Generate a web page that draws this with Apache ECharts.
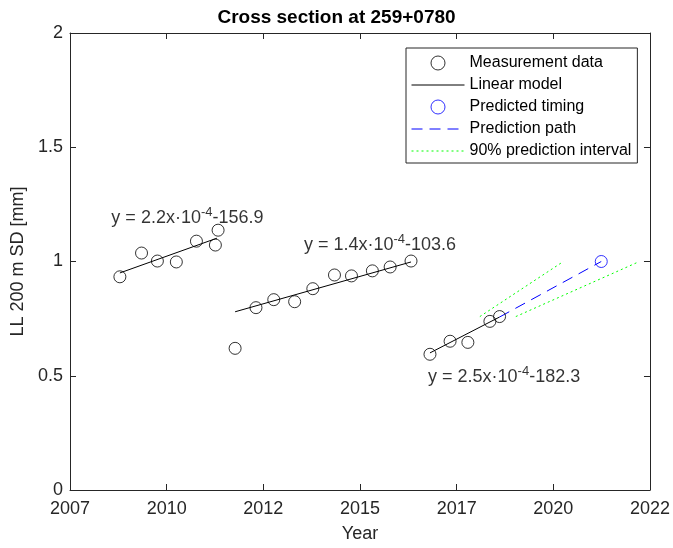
<!DOCTYPE html>
<html>
<head>
<meta charset="utf-8">
<script src="https://cdn.jsdelivr.net/npm/echarts@6/dist/echarts.min.js"></script>
<style>html,body{margin:0;padding:0;background:#fff}#c{width:673px;height:548px}</style>
</head>
<body>
<div id="c"></div>
<script>
// Measurement data [decimal year, LL 200 m SD]
var measured = [
  [2008.79, 0.933], [2009.35, 1.037], [2009.76, 1.002], [2010.25, 0.998],
  [2010.77, 1.089], [2011.26, 1.072], [2011.33, 1.137],
  [2011.77, 0.620], [2012.31, 0.798], [2012.77, 0.833], [2013.31, 0.824],
  [2013.78, 0.881], [2014.34, 0.941], [2014.78, 0.937], [2015.32, 0.959],
  [2015.78, 0.976], [2016.32, 1.002],
  [2016.81, 0.594], [2017.33, 0.651], [2017.79, 0.646], [2018.36, 0.738],
  [2018.61, 0.759]
];
var fit1 = [[2008.79, 0.950], [2011.30, 1.102]];
var fit2 = [[2011.77, 0.780], [2016.32, 0.998]];
var fit3 = [[2016.81, 0.600], [2018.61, 0.757]];
var predicted = [[2021.24, 1.000]];
var predPath = [[2018.61, 0.757], [2021.24, 1.000]];
var piUpper = [[2018.10, 0.759], [2020.26, 1.000]];
var piLower = [[2019.03, 0.759], [2022.16, 0.995]];
var annotations = [
  {pos: [2008.57, 1.190], a: 'y = 2.2x·10', s: '-4', b: '-156.9'},
  {pos: [2013.55, 1.072], a: 'y = 1.4x·10', s: '-4', b: '-103.6'},
  {pos: [2016.76, 0.495], a: 'y = 2.5x·10', s: '-4', b: '-182.3'}
];
var xTickLabelFormat = function (v) { return String(Math.floor(v + 1e-6)); };

var FONT = 'Liberation Sans, Arial, Helvetica, sans-serif';
var AX = '#262626';
var chart = echarts.init(document.getElementById('c'), null, {renderer: 'canvas'});

function axisX(pos, showLabel) {
  return {
    type: 'value', position: pos, min: 2007.5, max: 2022.5, interval: 2.5,
    axisLine: {show: true, onZero: false, lineStyle: {color: AX, width: 1}},
    axisTick: {show: true, inside: true, length: 6, lineStyle: {color: AX}},
    axisLabel: {show: showLabel, formatter: xTickLabelFormat, fontSize: 18, color: AX, fontFamily: FONT, margin: 10},
    splitLine: {show: false},
    name: showLabel ? 'Year' : '', nameLocation: 'middle', nameGap: 35,
    nameTextStyle: {fontSize: 18, color: AX, fontFamily: FONT}
  };
}
function axisY(pos, showLabel) {
  return {
    type: 'value', position: pos, min: 0, max: 2, interval: 0.5,
    axisLine: {show: true, onZero: false, lineStyle: {color: AX, width: 1}},
    axisTick: {show: true, inside: true, length: 6, lineStyle: {color: AX}},
    axisLabel: {show: showLabel, fontSize: 18, color: AX, fontFamily: FONT, margin: 7},
    splitLine: {show: false},
    name: showLabel ? 'LL 200 m SD [mm]' : '', nameLocation: 'middle', nameGap: 37, nameRotate: 90,
    nameTextStyle: {fontSize: 18, color: AX, fontFamily: FONT}
  };
}
function fitSeries(d) {
  return {name: 'Linear model', type: 'line', data: d, symbol: 'none', silent: true,
    lineStyle: {color: '#000', width: 1}, itemStyle: {color: '#000', opacity: 0}, z: 2};
}
function piSeries(d) {
  return {name: '90% prediction interval', type: 'line', data: d, symbol: 'none', silent: true,
    lineStyle: {color: '#00ff00', width: 1, type: [2, 3]}, itemStyle: {color: '#00ff00', opacity: 0}, z: 2};
}
var hideSym = {opacity: 0};
var thinLine = {width: 1};

chart.setOption({
  animation: false,
  backgroundColor: '#fff',
  title: {text: 'Cross section at 259+0780', left: 'center', top: 8, padding: 0,
    textStyle: {fontSize: 19, fontWeight: 'bold', color: '#000', fontFamily: FONT}},
  grid: {left: 70, right: 20, top: 33, bottom: 54, containLabel: false},
  xAxis: [axisX('bottom', true), axisX('top', false)],
  yAxis: [axisY('left', true), axisY('right', false)],
  legend: {
    data: [
      {name: 'Measurement data', itemStyle: {borderWidth: 1}},
      {name: 'Linear model', itemStyle: hideSym, lineStyle: thinLine},
      {name: 'Predicted timing', itemStyle: {borderWidth: 1}},
      {name: 'Prediction path', itemStyle: hideSym, lineStyle: thinLine},
      {name: '90% prediction interval', itemStyle: hideSym, lineStyle: thinLine}
    ],
    orient: 'vertical', left: 406, top: 48, padding: [7, 6, 4, 5],
    itemWidth: 53, itemHeight: 14, itemGap: 6,
    backgroundColor: '#fff', borderColor: AX, borderWidth: 1, borderRadius: 0,
    selectedMode: false,
    textStyle: {fontSize: 16, color: '#000', fontFamily: FONT}
  },
  series: [
    {name: 'Measurement data', type: 'scatter', data: measured, symbol: 'circle', symbolSize: 12,
      itemStyle: {color: 'transparent', borderColor: '#000', borderWidth: 1}, z: 3},
    fitSeries(fit1), fitSeries(fit2), fitSeries(fit3),
    {name: 'Predicted timing', type: 'scatter', data: predicted, symbol: 'circle', symbolSize: 12,
      itemStyle: {color: 'transparent', borderColor: '#0000ff', borderWidth: 1}, z: 3},
    {name: 'Prediction path', type: 'line', data: predPath, symbol: 'none', silent: true,
      lineStyle: {color: '#0000ff', width: 1, type: [11, 7]}, itemStyle: {color: '#0000ff', opacity: 0}, z: 2},
    piSeries(piUpper), piSeries(piLower),
    {name: 'annotations', type: 'scatter', symbolSize: 0, silent: true, z: 4,
      data: annotations.map(function (t) { return {value: t.pos}; }),
      label: {
        show: true, position: 'inside', align: 'left', verticalAlign: 'middle',
        formatter: function (p) { var t = annotations[p.dataIndex]; return '{a|' + t.a + '}{s|' + t.s + '}{a|' + t.b + '}'; },
        rich: {
          a: {fontSize: 18, lineHeight: 24, color: '#000', fontFamily: FONT},
          s: {fontSize: 13, lineHeight: 13, verticalAlign: 'top', color: '#000', fontFamily: FONT}
        }
      }
    }
  ]
});
</script>
</body>
</html>
